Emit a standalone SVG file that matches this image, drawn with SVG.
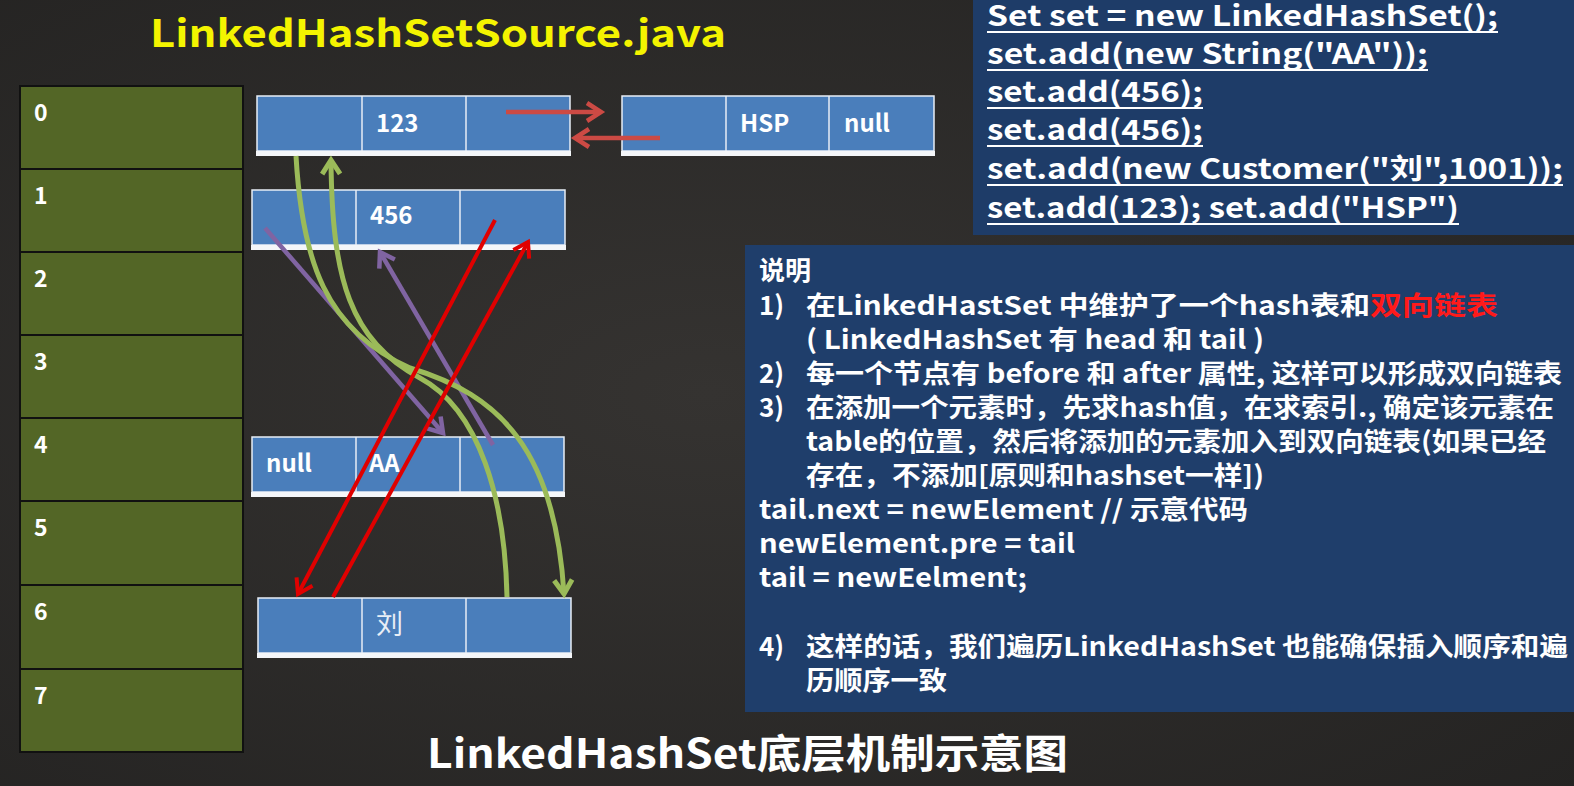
<svg xmlns="http://www.w3.org/2000/svg" width="1574" height="786" viewBox="0 0 1574 786">
<style>
text{font-family:"Noto Sans CJK SC","Noto Sans",sans-serif;font-weight:bold;fill:#fff}
.tbl rect{fill:#536626;stroke:#111;stroke-width:2}
.tbl text{font-size:23px}
.cell{fill:#4a7ebb;stroke:#e8eef6;stroke-width:1.5}
.div{stroke:#e8eef6;stroke-width:1.5}
.bar{fill:#f4f6f9}
.ntext{font-size:24px}
.code{font-size:28px}
.ul{stroke:#fff;stroke-width:2}
.note{font-size:26px}
.g{stroke:#9bbb59;stroke-width:5;fill:none}
.p{stroke:#8064a2;stroke-width:4.5;fill:none}
.r{stroke:#e00000;stroke-width:4;fill:none}
.r2{stroke:#cc4a44;stroke-width:4.5;fill:none}
</style>
<defs>
<radialGradient id="bg" cx="0.45" cy="0.5" r="0.8">
<stop offset="0" stop-color="#353331"/>
<stop offset="1" stop-color="#232221"/>
</radialGradient>
<marker id="mG" markerUnits="userSpaceOnUse" markerWidth="30" markerHeight="30" viewBox="-22 -15 30 30" refX="0" refY="0" orient="auto"><path d="M-14,-9 L0,0 L-14,9" fill="none" stroke="#9bbb59" stroke-width="5"/></marker>
<marker id="mP" markerUnits="userSpaceOnUse" markerWidth="30" markerHeight="30" viewBox="-22 -15 30 30" refX="0" refY="0" orient="auto"><path d="M-14,-9 L0,0 L-14,9" fill="none" stroke="#8064a2" stroke-width="4.5"/></marker>
<marker id="mR" markerUnits="userSpaceOnUse" markerWidth="30" markerHeight="30" viewBox="-22 -15 30 30" refX="0" refY="0" orient="auto"><path d="M-14,-9 L0,0 L-14,9" fill="none" stroke="#e00000" stroke-width="4"/></marker>
<marker id="mR2" markerUnits="userSpaceOnUse" markerWidth="30" markerHeight="30" viewBox="-22 -15 30 30" refX="0" refY="0" orient="auto"><path d="M-14,-9 L0,0 L-14,9" fill="none" stroke="#cc4a44" stroke-width="4.5"/></marker>
</defs>
<rect width="1574" height="786" fill="url(#bg)"/>

<text id="title" x="150" y="47" font-size="38" style="fill:#f4f400" textLength="576" lengthAdjust="spacingAndGlyphs">LinkedHashSetSource.java</text>

<g id="table" class="tbl">
<rect x="20" y="86" width="223" height="83"/>
<rect x="20" y="169" width="223" height="83"/>
<rect x="20" y="252" width="223" height="83"/>
<rect x="20" y="335" width="223" height="83"/>
<rect x="20" y="418" width="223" height="83"/>
<rect x="20" y="501" width="223" height="84"/>
<rect x="20" y="585" width="223" height="84"/>
<rect x="20" y="669" width="223" height="83"/>
<text x="34" y="121">0</text>
<text x="34" y="204">1</text>
<text x="34" y="287">2</text>
<text x="34" y="370">3</text>
<text x="34" y="453">4</text>
<text x="34" y="536">5</text>
<text x="34" y="620">6</text>
<text x="34" y="704">7</text>
</g>

<g id="node-123">
<rect class="cell" x="257" y="96" width="313" height="55"/>
<line class="div" x1="362" y1="96" x2="362" y2="151"/>
<line class="div" x1="466" y1="96" x2="466" y2="151"/>
<rect class="bar" x="256" y="151" width="315" height="5"/>
<text class="ntext" x="376" y="132">123</text>
</g>
<g id="node-HSP">
<rect class="cell" x="622" y="96" width="312" height="55"/>
<line class="div" x1="726" y1="96" x2="726" y2="151"/>
<line class="div" x1="829" y1="96" x2="829" y2="151"/>
<rect class="bar" x="621" y="151" width="314" height="5"/>
<text class="ntext" x="740" y="132">HSP</text>
<text class="ntext" x="844" y="132">null</text>
</g>
<g id="node-456">
<rect class="cell" x="252" y="190" width="313" height="55"/>
<line class="div" x1="356" y1="190" x2="356" y2="245"/>
<line class="div" x1="460" y1="190" x2="460" y2="245"/>
<rect class="bar" x="251" y="245" width="315" height="5"/>
<text class="ntext" x="370" y="224">456</text>
</g>
<g id="node-AA">
<rect class="cell" x="252" y="437" width="312" height="55"/>
<line class="div" x1="356" y1="437" x2="356" y2="492"/>
<line class="div" x1="460" y1="437" x2="460" y2="492"/>
<rect class="bar" x="251" y="492" width="314" height="5"/>
<text class="ntext" x="266" y="472">null</text>
<text class="ntext" x="369" y="472">AA</text>
</g>
<g id="node-liu">
<rect class="cell" x="258" y="598" width="313" height="55"/>
<line class="div" x1="362" y1="598" x2="362" y2="653"/>
<line class="div" x1="466" y1="598" x2="466" y2="653"/>
<rect class="bar" x="257" y="653" width="315" height="5"/>
<text x="376" y="634" font-size="27" style="font-weight:normal;fill:#e8eef6">刘</text>
</g>

<g id="connectors">
<line class="r2" x1="506" y1="112" x2="601" y2="112" marker-end="url(#mR2)"/>
<line class="r2" x1="660" y1="138" x2="575" y2="138" marker-end="url(#mR2)"/>
<line class="p" x1="265" y1="228" x2="443" y2="433" marker-end="url(#mP)"/>
<line class="p" x1="493" y1="445" x2="380" y2="252" marker-end="url(#mP)"/>
<path class="g" d="M296,156 C302,260 325,330 410,368 C500,395 555,450 564,594" marker-end="url(#mG)"/>
<path class="g" d="M507,597 C505,500 480,410 420,378 C350,340 332,280 331,160" marker-end="url(#mG)"/>
<line class="r" x1="495" y1="220" x2="298" y2="594" marker-end="url(#mR)"/>
<line class="r" x1="333" y1="597" x2="528" y2="242" marker-end="url(#mR)"/>
</g>

<g id="code-panel">
<rect x="973" y="0" width="601" height="235" fill="#1e3c68"/>
<text class="code" x="987" y="26" textLength="511" lengthAdjust="spacingAndGlyphs">Set set = new LinkedHashSet();</text>
<text class="code" x="987" y="64" textLength="441" lengthAdjust="spacingAndGlyphs">set.add(new String("AA"));</text>
<text class="code" x="987" y="102" textLength="216" lengthAdjust="spacingAndGlyphs">set.add(456);</text>
<text class="code" x="987" y="140" textLength="216" lengthAdjust="spacingAndGlyphs">set.add(456);</text>
<text class="code" x="987" y="179" textLength="576" lengthAdjust="spacingAndGlyphs">set.add(new Customer("刘",1001));</text>
<text class="code" x="987" y="218" textLength="472" lengthAdjust="spacingAndGlyphs">set.add(123); set.add("HSP")</text>
<line class="ul" x1="987" y1="32" x2="1498" y2="32"/>
<line class="ul" x1="987" y1="70" x2="1428" y2="70"/>
<line class="ul" x1="987" y1="108" x2="1203" y2="108"/>
<line class="ul" x1="987" y1="146" x2="1203" y2="146"/>
<line class="ul" x1="987" y1="185" x2="1563" y2="185"/>
<line class="ul" x1="987" y1="224" x2="1459" y2="224"/>
</g>

<g id="note-panel">
<rect x="745" y="245" width="829" height="467" fill="#1f3e6b"/>
<text class="note" x="759" y="280">说明</text>
<text class="note" x="759" y="315">1)</text>
<text class="note" x="806" y="315" textLength="564" lengthAdjust="spacingAndGlyphs">在LinkedHastSet 中维护了一个hash表和</text>
<text class="note" x="1370" y="315" textLength="128" lengthAdjust="spacingAndGlyphs" style="fill:#ff1a1a">双向链表</text>
<text class="note" x="806" y="349" textLength="458" lengthAdjust="spacingAndGlyphs">( LinkedHashSet 有 head 和 tail )</text>
<text class="note" x="759" y="383">2)</text>
<text class="note" x="806" y="383" textLength="756" lengthAdjust="spacingAndGlyphs">每一个节点有 before 和 after 属性, 这样可以形成双向链表</text>
<text class="note" x="759" y="417">3)</text>
<text class="note" x="806" y="417" textLength="748" lengthAdjust="spacingAndGlyphs">在添加一个元素时，先求hash值，在求索引., 确定该元素在</text>
<text class="note" x="806" y="451" textLength="740" lengthAdjust="spacingAndGlyphs">table的位置，然后将添加的元素加入到双向链表(如果已经</text>
<text class="note" x="806" y="485" textLength="458" lengthAdjust="spacingAndGlyphs">存在，不添加[原则和hashset一样])</text>
<text class="note" x="759" y="519" textLength="489" lengthAdjust="spacingAndGlyphs">tail.next = newElement // 示意代码</text>
<text class="note" x="759" y="553" textLength="316" lengthAdjust="spacingAndGlyphs">newElement.pre = tail</text>
<text class="note" x="759" y="587" textLength="268" lengthAdjust="spacingAndGlyphs">tail = newEelment;</text>
<text class="note" x="759" y="656">4)</text>
<text class="note" x="806" y="656" textLength="762" lengthAdjust="spacingAndGlyphs">这样的话，我们遍历LinkedHashSet 也能确保插入顺序和遍</text>
<text class="note" x="806" y="690" textLength="141" lengthAdjust="spacingAndGlyphs">历顺序一致</text>
</g>

<text id="caption" x="427" y="768" font-size="40" textLength="641" lengthAdjust="spacingAndGlyphs">LinkedHashSet底层机制示意图</text>
</svg>
